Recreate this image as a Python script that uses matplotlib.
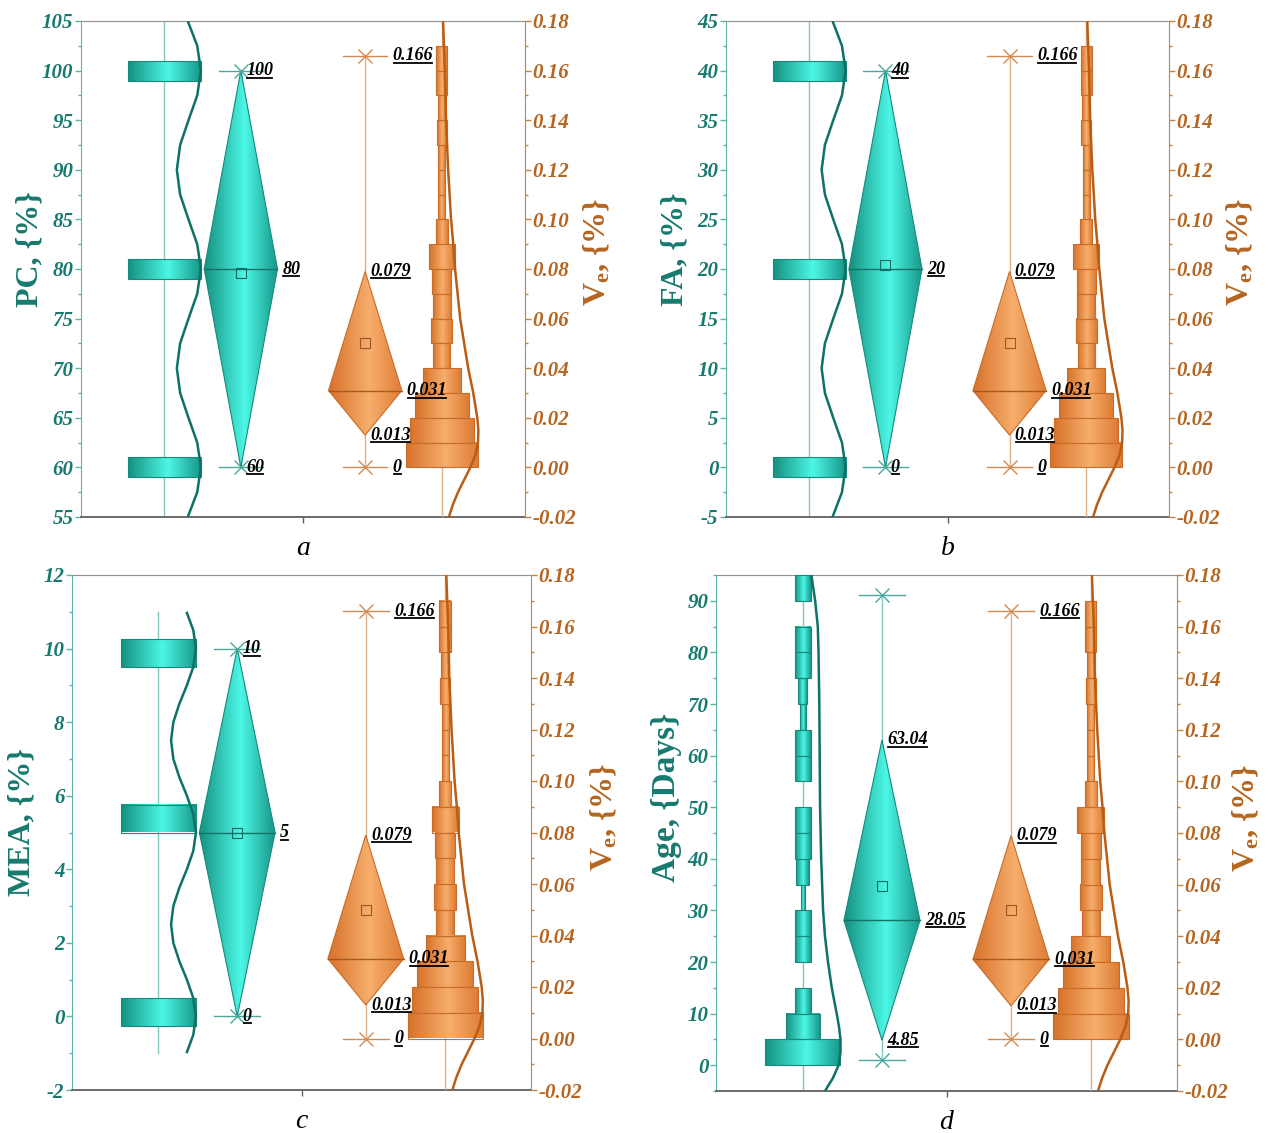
import numpy as np
import matplotlib
matplotlib.use('Agg')
import matplotlib.pyplot as plt
from matplotlib.colors import LinearSegmentedColormap
from matplotlib.patches import Polygon, Rectangle
from matplotlib.lines import Line2D
from matplotlib.ticker import MultipleLocator
from matplotlib.font_manager import FontProperties

plt.rcParams['font.family'] = ['Liberation Serif', 'DejaVu Serif']
plt.rcParams['axes.unicode_minus'] = False
plt.rcParams['mathtext.fontset'] = 'custom'
plt.rcParams['mathtext.rm'] = 'Liberation Serif'
plt.rcParams['mathtext.bf'] = 'Liberation Serif:bold'
plt.rcParams['mathtext.it'] = 'Liberation Serif:italic'

# ------------------------------------------------------------------ data
panel_letters = ['a', 'b', 'c', 'd']
left_labels = ['PC, {%}', 'FA, {%}', 'MEA, {%}', 'Age, {Days}']
right_label = r'$\mathbf{V_e}$, {%}'

# left-axis ticks
pc_ticks = [55, 60, 65, 70, 75, 80, 85, 90, 95, 100, 105]
pc_ticklabels = ['55', '60', '65', '70', '75', '80', '85', '90', '95', '100', '105']
fa_ticks = [-5, 0, 5, 10, 15, 20, 25, 30, 35, 40, 45]
fa_ticklabels = ['-5', '0', '5', '10', '15', '20', '25', '30', '35', '40', '45']
mea_ticks = [-2, 0, 2, 4, 6, 8, 10, 12]
mea_ticklabels = ['-2', '0', '2', '4', '6', '8', '10', '12']
age_ticks = [0, 10, 20, 30, 40, 50, 60, 70, 80, 90]
age_ticklabels = ['0', '10', '20', '30', '40', '50', '60', '70', '80', '90']
ve_ticks = [-0.02, 0.0, 0.02, 0.04, 0.06, 0.08, 0.10, 0.12, 0.14, 0.16, 0.18]
ve_ticklabels = ['-0.02', '0.00', '0.02', '0.04', '0.06', '0.08', '0.10',
                 '0.12', '0.14', '0.16', '0.18']

# histogram bins (lower edge, upper edge) and relative counts
pc_bin_lo = [59, 79, 99]
pc_bin_hi = [61, 81, 101]
pc_counts = [1, 1, 1]
fa_bin_lo = [-1, 19, 39]
fa_bin_hi = [1, 21, 41]
fa_counts = [1, 1, 1]
mea_bin_lo = [-0.25, 5.0, 9.5]
mea_bin_hi = [0.5, 5.75, 10.25]
mea_counts = [1, 1, 1]
age_bin_lo = [0, 5, 10, 15, 20, 25, 30, 35, 40, 45, 50, 55, 60, 65, 70, 75, 80, 85, 90]
age_bin_hi = [5, 10, 15, 20, 25, 30, 35, 40, 45, 50, 55, 60, 65, 70, 75, 80, 85, 90, 95]
age_counts = [76, 34, 16, 0, 16, 16, 4, 13, 16, 16, 0, 16, 16, 6, 9, 16, 16, 0, 16]
ve_bin_lo = [0.00, 0.01, 0.02, 0.03, 0.04, 0.05, 0.06, 0.07, 0.08, 0.09,
             0.10, 0.11, 0.12, 0.13, 0.14, 0.15, 0.16]
ve_bin_hi = [0.01, 0.02, 0.03, 0.04, 0.05, 0.06, 0.07, 0.08, 0.09, 0.10,
             0.11, 0.12, 0.13, 0.14, 0.15, 0.16, 0.17]
ve_counts = [73, 64, 54, 38, 17, 21, 18, 19, 26, 12, 7, 7, 7, 10, 8, 11, 11]

# distribution curves (y, relative width)
pc_curve_y = [55, 57.5, 60, 62.5, 65, 67.5, 70, 72.5, 75, 77.5, 80, 82.5, 85,
              87.5, 90, 92.5, 95, 97.5, 100, 102.5, 105]
pc_curve_w = [0.64, 0.90, 1.00, 0.90, 0.66, 0.43, 0.34, 0.43, 0.66, 0.90, 1.00,
              0.90, 0.66, 0.43, 0.34, 0.43, 0.66, 0.90, 1.00, 0.90, 0.64]
fa_curve_y = [-5, -2.5, 0, 2.5, 5, 7.5, 10, 12.5, 15, 17.5, 20, 22.5, 25,
              27.5, 30, 32.5, 35, 37.5, 40, 42.5, 45]
fa_curve_w = [0.64, 0.90, 1.00, 0.90, 0.66, 0.43, 0.34, 0.43, 0.66, 0.90, 1.00,
              0.90, 0.66, 0.43, 0.34, 0.43, 0.66, 0.90, 1.00, 0.90, 0.64]
mea_curve_y = [-1, -0.5, 0, 0.5, 1, 1.5, 2, 2.5, 3, 3.5, 4, 4.5, 5, 5.5, 6,
               6.5, 7, 7.5, 8, 8.5, 9, 9.5, 10, 10.5, 11]
mea_curve_w = [0.75, 0.93, 1.00, 0.93, 0.76, 0.56, 0.40, 0.34, 0.40, 0.56, 0.76,
               0.93, 1.00, 0.93, 0.76, 0.56, 0.40, 0.34, 0.40, 0.56, 0.76, 0.93,
               1.00, 0.93, 0.75]
age_curve_y = [-5, -2.5, 0, 2.5, 5, 7.5, 10, 15, 20, 25, 30, 40, 50, 60, 70,
               80, 85, 90, 95]
age_curve_w = [0.59, 0.80, 0.95, 1.00, 1.00, 0.96, 0.90, 0.77, 0.67, 0.59, 0.54,
               0.49, 0.46, 0.45, 0.44, 0.42, 0.40, 0.33, 0.23]
ve_curve_y = [-0.02, -0.015, -0.01, -0.005, 0.0, 0.005, 0.01, 0.015, 0.02, 0.03,
              0.04, 0.05, 0.06, 0.07, 0.08, 0.09, 0.10, 0.12, 0.14, 0.16, 0.18]
ve_curve_w = [0.19, 0.30, 0.44, 0.61, 0.78, 0.92, 0.99, 1.00, 0.97, 0.86, 0.72,
              0.61, 0.50, 0.43, 0.36, 0.31, 0.25, 0.17, 0.11, 0.08, 0.03]

# box (diamond) statistics: low, median, high, mean, whisker low, whisker high
pc_box = [60, 80, 100, 79.6, 60, 100]
fa_box = [0, 20, 40, 20.4, 0, 40]
mea_box = [0, 5, 10, 5.0, 0, 10]
age_box = [4.85, 28.05, 63.04, 34.8, 1.0, 91.2]
ve_box = [0.013, 0.031, 0.079, 0.050, 0.0, 0.166]
pc_box_labels = ['60', '80', '100']
fa_box_labels = ['0', '20', '40']
mea_box_labels = ['0', '5', '10']
age_box_labels = ['4.85', '28.05', '63.04']
ve_box_labels = ['0.013', '0.031', '0.079']
ve_whisker_labels = ['0', '0.166']

panels = [
    dict(ylim=(55, 105), minor=2.5, ticks=pc_ticks, tl=pc_ticklabels,
         lo=pc_bin_lo, hi=pc_bin_hi, cnt=pc_counts, cy=pc_curve_y, cw=pc_curve_w,
         box=pc_box, bl=pc_box_labels),
    dict(ylim=(-5, 45), minor=2.5, ticks=fa_ticks, tl=fa_ticklabels,
         lo=fa_bin_lo, hi=fa_bin_hi, cnt=fa_counts, cy=fa_curve_y, cw=fa_curve_w,
         box=fa_box, bl=fa_box_labels),
    dict(ylim=(-2, 12), minor=1, ticks=mea_ticks, tl=mea_ticklabels,
         lo=mea_bin_lo, hi=mea_bin_hi, cnt=mea_counts, cy=mea_curve_y, cw=mea_curve_w,
         box=mea_box, bl=mea_box_labels),
    dict(ylim=(-5, 95), minor=5, ticks=age_ticks, tl=age_ticklabels,
         lo=age_bin_lo, hi=age_bin_hi, cnt=age_counts, cy=age_curve_y, cw=age_curve_w,
         box=age_box, bl=age_box_labels),
]

# ------------------------------------------------------------------ style
W, H = 1269, 1133
rects_px = [(81, 21, 525, 517), (726, 21, 1169, 517),
            (72, 575, 531, 1090), (716, 575, 1177, 1091)]
ylabel_x = [-0.082, -0.082, -0.078, -0.074]
ylabel_y = [0.54, 0.54, 0.52, 0.57]
ylabel_size = [23, 23, 23, 24]
ylabel2_x = [1.128, 1.126, 1.126, 1.118]
ylabel2_y = [0.535, 0.535, 0.53, 0.53]

X_HIST, X_DIA, X_VBOX, X_VHIST = 0.188, 0.36, 0.64, 0.813
HIST_W = 0.164
DIA_W = 0.165
CAP = 0.05

TEAL_TXT = '#177a6f'
TEAL_SPINE = '#5db5aa'
TEAL_EDGE = '#17897d'
TEAL_CURVE = '#0d7165'
TEAL_LINE = '#86c6bf'
TEAL_CROSS = '#4aa99d'
TEAL_MED = '#127366'
TEAL_MEAN = '#0f6a60'
ORG_TXT = '#b5651f'
ORG_SPINE = '#c8823f'
ORG_EDGE = '#c86c28'
ORG_CURVE = '#b95d14'
ORG_LINE = '#deb08a'
ORG_CROSS = '#d48a50'
ORG_MED = '#a65a1c'
ORG_MEAN = '#9c5520'

TICK_FP = FontProperties(family='Liberation Serif', style='italic',
                         weight='bold', size=15)

teal_cmap = LinearSegmentedColormap.from_list(
    'teal', [(0, '#15907f'), (0.55, '#4cf7e6'), (1, '#179688')])
org_cmap = LinearSegmentedColormap.from_list(
    'org', [(0, '#d6722a'), (0.55, '#f7ae6c'), (1, '#dd7c34')])
GRAD = np.linspace(0, 1, 256).reshape(1, -1)

fig = plt.figure(figsize=(W / 100, H / 100), dpi=100)
underline_texts = []
styled_axes = []


def grad_fill(ax, cmap, x0, x1, y0, y1, clip=None, z=3):
    im = ax.imshow(GRAD, extent=[x0, x1, y0, y1], origin='lower', aspect='auto',
                   cmap=cmap, interpolation='bilinear', zorder=z)
    if clip is not None:
        im.set_clip_path(clip)


def draw_hist(ax, cx, lo, hi, cnt, cmap, edge):
    cmax = max(cnt)
    for a, b, c in zip(lo, hi, cnt):
        if c <= 0:
            continue
        w = HIST_W * c / cmax
        grad_fill(ax, cmap, cx - w / 2, cx + w / 2, a, b, z=3)
        ax.add_patch(Rectangle((cx - w / 2, a), w, b - a, fill=False, ec=edge,
                               lw=0.8, zorder=4))


def draw_curve(ax, cx, cy, cw, linecolor, curvecolor):
    ax.plot([cx, cx], [cy[0], cy[-1]], color=linecolor, lw=1.0, zorder=2)
    ax.plot(cx + np.asarray(cw) * HIST_W / 2, cy, color=curvecolor, lw=1.8,
            zorder=6, solid_capstyle='butt')


def label(ax, x, y, s):
    t = ax.text(x, y, s, fontsize=13, fontweight='bold', fontstyle='italic',
                color='black', ha='left', va='center', zorder=10)
    underline_texts.append(t)


def draw_box(ax, cx, box, cmap, edge, medc, meanc, linec, crossc, labels,
             wlabels=None):
    lo, med, hi, mean, wlo, whi = box
    ax.plot([cx, cx], [wlo, whi], color=linec, lw=1.0, zorder=2)
    for y in (wlo, whi):
        ax.plot([cx - CAP, cx + CAP], [y, y], color=crossc, lw=1.0, zorder=7)
        ax.plot([cx], [y], marker='x', ms=10, mew=1.0, color=crossc, zorder=7)
    verts = [(cx, lo), (cx + DIA_W / 2, med), (cx, hi), (cx - DIA_W / 2, med)]
    poly = Polygon(verts, closed=True, fill=False, ec=edge, lw=0.8, zorder=4)
    ax.add_patch(poly)
    grad_fill(ax, cmap, cx - DIA_W / 2, cx + DIA_W / 2, lo, hi, clip=poly, z=3)
    ax.plot([cx - DIA_W / 2, cx + DIA_W / 2], [med, med], color=medc, lw=1.0,
            zorder=5)
    ax.plot([cx], [mean], marker='s', ms=7, mfc='none', mec=meanc, mew=0.8,
            zorder=6)
    label(ax, cx + 0.012, lo, labels[0])
    label(ax, cx + DIA_W / 2 + 0.011, med, labels[1])
    label(ax, cx + 0.012, hi, labels[2])
    if wlabels is not None:
        label(ax, cx + CAP + 0.012, wlo, wlabels[0])
        label(ax, cx + CAP + 0.012, whi, wlabels[1])


for i, p in enumerate(panels):
    l, t, r, b = rects_px[i]
    ax = fig.add_axes([l / W, 1 - b / H, (r - l) / W, (b - t) / H])
    ax2 = ax.twinx()

    # left (teal) series
    draw_hist(ax, X_HIST, p['lo'], p['hi'], p['cnt'], teal_cmap, TEAL_EDGE)
    draw_curve(ax, X_HIST, p['cy'], p['cw'], TEAL_LINE, TEAL_CURVE)
    draw_box(ax, X_DIA, p['box'], teal_cmap, TEAL_EDGE, TEAL_MED, TEAL_MEAN,
             TEAL_LINE, TEAL_CROSS, p['bl'])

    # right (orange) series
    draw_box(ax2, X_VBOX, ve_box, org_cmap, ORG_EDGE, ORG_MED, ORG_MEAN,
             ORG_LINE, ORG_CROSS, ve_box_labels, ve_whisker_labels)
    draw_hist(ax2, X_VHIST, ve_bin_lo, ve_bin_hi, ve_counts, org_cmap, ORG_EDGE)
    draw_curve(ax2, X_VHIST, ve_curve_y, ve_curve_w, ORG_LINE, ORG_CURVE)

    ax.set_xlim(0, 1)
    ax.set_ylim(*p['ylim'])
    ax2.set_ylim(-0.02, 0.18)

    # left axis
    ax.yaxis.set_minor_locator(MultipleLocator(p['minor']))
    ax.tick_params(axis='y', which='major', direction='out', length=4,
                   width=1, color=TEAL_SPINE, pad=1.5)
    ax.tick_params(axis='y', which='minor', direction='out', length=2,
                   width=1, color=TEAL_SPINE)
    ax.set_yticks(p['ticks'])
    ax.set_yticklabels(p['tl'], fontproperties=TICK_FP, color=TEAL_TXT)
    ax.set_ylabel(left_labels[i], fontsize=ylabel_size[i], fontweight='bold',
                  color=TEAL_TXT)
    ax.yaxis.set_label_coords(ylabel_x[i], ylabel_y[i])

    # bottom axis
    ax.tick_params(axis='x', direction='out', length=4, width=1,
                   color='#606060', pad=10)
    ax.set_xticks([0.5])
    ax.set_xticklabels([panel_letters[i]], fontsize=20, fontstyle='italic',
                       color='black')

    # right axis
    ax2.yaxis.set_minor_locator(MultipleLocator(0.01))
    ax2.tick_params(axis='y', which='major', direction='out', length=4,
                    width=1, color=ORG_SPINE, pad=1.5)
    ax2.tick_params(axis='y', which='minor', direction='out', length=2,
                    width=1, color=ORG_SPINE)
    ax2.set_yticks(ve_ticks)
    ax2.set_yticklabels(ve_ticklabels, fontproperties=TICK_FP, color=ORG_TXT)
    ax2.set_ylabel(right_label, fontsize=23, fontweight='bold', color=ORG_TXT,
                   rotation=90)
    ax2.yaxis.set_label_coords(ylabel2_x[i], ylabel2_y[i])

    # spines
    ax.spines['left'].set_color(TEAL_SPINE)
    ax.spines['right'].set_visible(False)
    ax.spines['top'].set_color('#909090')
    ax.spines['bottom'].set_color('#606060')
    ax.spines['bottom'].set_linewidth(1.3)
    for s in ('left', 'top', 'bottom'):
        ax2.spines[s].set_visible(False)
    ax2.spines['right'].set_color(ORG_SPINE)
    styled_axes.append((ax, TEAL_TXT))
    styled_axes.append((ax2, ORG_TXT))


def style_ticklabels():
    for a, c in styled_axes:
        for lab in a.get_yticklabels():
            lab.set_fontproperties(TICK_FP)
            lab.set_color(c)


style_ticklabels()
fig.canvas.draw()
style_ticklabels()

# underline the value labels
renderer = fig.canvas.get_renderer()
inv = fig.transFigure.inverted()
for t in underline_texts:
    bb = t.get_window_extent(renderer)
    y = bb.y0 + 1.5
    x0f, yf = inv.transform((bb.x0 + 1, y))
    x1f, _ = inv.transform((bb.x1 - 1, y))
    fig.add_artist(Line2D([x0f, x1f], [yf, yf], color='black', lw=1.3))

fig.savefig('out.png', dpi=100)
